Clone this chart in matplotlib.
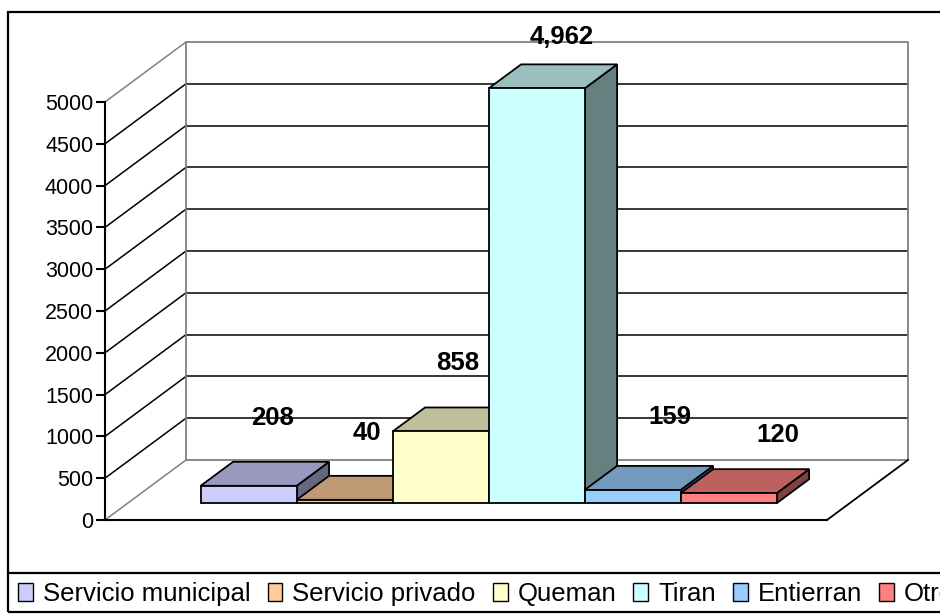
import matplotlib
matplotlib.use("Agg")
import matplotlib.pyplot as plt
import matplotlib.colors as mcolors
from matplotlib.patches import Polygon, Patch, Rectangle
from matplotlib.lines import Line2D

plt.rcParams['font.family'] = ['Liberation Sans', 'DejaVu Sans']

# -------------------------------
# data
# -------------------------------
categories = ["Servicio municipal", "Servicio privado", "Queman", "Tiran", "Entierran", "Otro"]
values = [208, 40, 858, 4962, 159, 120]
colors = ["#CCCCFF", "#FFCC99", "#FFFFCC", "#CCFFFF", "#99CCFF", "#FF8080"]
yticks = [0, 500, 1000, 1500, 2000, 2500, 3000, 3500, 4000, 4500, 5000]

# label nudges (pixels) to mimic the original placement
label_offsets = [(24, 68), (22, 67), (17, 68), (25, 51), (37, 73), (49, 58)]

# -------------------------------
# layout helpers (pixel -> figure fraction)
# -------------------------------
W, H = 940, 614
def fx(px):
    return px / W
def fy(py):
    return 1 - py / H

fig = plt.figure(figsize=(W / 100, H / 100), dpi=100)
ax = fig.add_axes([fx(105), fy(520), 722 / W, 418 / H])

GAP = 0.76
XMAX = len(values) + 2 * GAP
YMAX = 5000
ax.set_xlim(0, XMAX)
ax.set_ylim(0, YMAX)

unit_px = 722 / XMAX
DX = 81 / unit_px          # depth shift in x units
DY = 60 * YMAX / 418       # depth shift in value units
D0, D1 = 0.28, 0.68        # bar front / back depth fraction

def P(x, v, d):
    return (x + d * DX, v + d * DY)

gray = "#808080"

# -------------------------------
# walls and gridlines
# -------------------------------
for t in yticks:
    col = gray if t in (0, YMAX) else "black"
    ax.plot([0, DX], [t, t + DY], color=col, lw=1.1, clip_on=False, zorder=1)
    if 0 < t < YMAX:
        ax.plot([DX, XMAX + DX], [t + DY, t + DY], color="black", lw=1.1,
                clip_on=False, zorder=1)

ax.plot([DX, DX, XMAX + DX, XMAX + DX, DX], [DY, YMAX + DY, YMAX + DY, DY, DY],
        color=gray, lw=1.3, clip_on=False, zorder=1)
ax.plot([XMAX, XMAX + DX], [0, DY], color="black", lw=1.3, clip_on=False, zorder=1)

# -------------------------------
# 3D-looking bars
# -------------------------------
for i, (v, c) in enumerate(zip(values, colors)):
    x0 = GAP + i
    rgb = mcolors.to_rgb(c)
    top_c = tuple(ch * 0.75 for ch in rgb)
    side_c = tuple(ch * 0.5 for ch in rgb)
    right = [P(x0 + 1, 0, D0), P(x0 + 1, 0, D1), P(x0 + 1, v, D1), P(x0 + 1, v, D0)]
    top = [P(x0, v, D0), P(x0 + 1, v, D0), P(x0 + 1, v, D1), P(x0, v, D1)]
    front = [P(x0, 0, D0), P(x0 + 1, 0, D0), P(x0 + 1, v, D0), P(x0, v, D0)]
    z = 3 + i * 0.1
    for poly, fc in ((right, side_c), (top, top_c), (front, c)):
        ax.add_patch(Polygon(poly, closed=True, facecolor=fc, edgecolor="black",
                             lw=1.3, clip_on=False, zorder=z, joinstyle="miter"))

    ox, oy = label_offsets[i]
    ax.annotate(f"{v:,}", xy=P(x0 + 0.5, v, D0), xytext=(ox, oy),
                textcoords="offset pixels", ha="center", va="center",
                fontsize=18.5, fontweight="bold", annotation_clip=False, zorder=10)

# -------------------------------
# axes styling
# -------------------------------
for s in ("top", "right"):
    ax.spines[s].set_visible(False)
ax.spines["left"].set_linewidth(1.5)
ax.spines["bottom"].set_linewidth(1.5)
ax.spines["left"].set_zorder(2)
ax.set_xticks([])
ax.set_yticks(yticks)
ax.tick_params(axis="y", length=6.5, width=1.5, direction="out", labelsize=15.5, pad=2)
ax.patch.set_visible(False)

# -------------------------------
# frame + legend
# -------------------------------
fig.add_artist(Rectangle((fx(8), fy(612)), 1.0, fy(12) - fy(612), transform=fig.transFigure,
                         fill=False, lw=1.6, edgecolor="black"))
fig.add_artist(Line2D([fx(8), 1.0], [fy(573), fy(573)], transform=fig.transFigure,
                      color="black", lw=1.6))

handles = [Patch(facecolor=c, edgecolor="black", lw=1.0) for c in colors]
fig.legend(handles, categories, loc="center left", bbox_to_anchor=(fx(18), fy(594)),
           ncol=len(categories), frameon=False, fontsize=18.5,
           handlelength=0.58, handleheight=0.66, handletextpad=0.39,
           columnspacing=0.66, borderpad=0, borderaxespad=0)

fig.savefig("out.png", dpi=100)
